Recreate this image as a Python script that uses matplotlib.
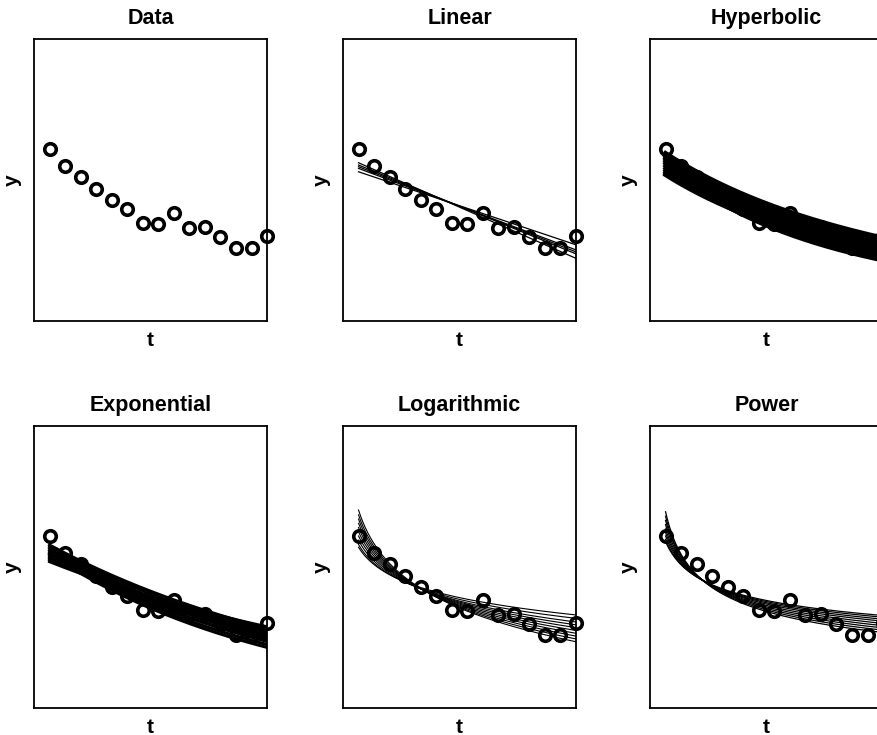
import numpy as np
import matplotlib
matplotlib.use('Agg')
import matplotlib.pyplot as plt

plt.rcParams['font.family'] = ['Liberation Sans', 'DejaVu Sans']
plt.rcParams['font.weight'] = 'bold'

# observed data
t = np.arange(1, 16)
y = [6.09, 5.51, 5.12, 4.67, 4.29, 3.96, 3.49, 3.44, 3.84, 3.29, 3.32, 2.99, 2.58, 2.58, 3.01]

linear_start = [5.61, 5.53, 5.47, 5.41, 5.29]
linear_end = [2.22, 2.38, 2.45, 2.52, 2.70]

hyper_start = [5.95, 5.90, 5.84, 5.78, 5.72, 5.65, 5.58, 5.50, 5.42, 5.35, 5.28, 5.22, 5.18]
hyper_end = [2.95, 2.85, 2.72, 2.60, 2.45, 2.30, 2.15, 2.20, 2.35, 2.50, 2.55, 2.45, 2.40]

exp_start = [5.78, 5.72, 5.66, 5.60, 5.54, 5.48, 5.45, 5.40, 5.34, 5.30, 5.25, 5.19]
exp_end = [2.82, 2.72, 2.60, 2.48, 2.36, 2.25, 2.15, 2.40, 2.55, 2.65, 2.75, 2.88]

log_start = [7.02, 6.85, 6.70, 6.55, 6.40, 6.25, 6.10, 5.95, 5.80, 5.70]
log_end = [2.35, 2.45, 2.55, 2.65, 2.75, 2.85, 2.95, 3.05, 3.18, 3.30]

pow_start = [6.96, 6.80, 6.65, 6.50, 6.35, 6.22, 6.10, 5.98, 5.90]
pow_end = [2.68, 2.76, 2.84, 2.92, 3.00, 3.08, 3.15, 3.22, 3.28]

titles = ['Data', 'Linear', 'Hyperbolic', 'Exponential', 'Logarithmic', 'Power']


def model_curve(kind, y0, y1, tt):
    # curve of the given family passing through (1, y0) and (15, y1)
    if kind == 'linear':
        return y0 + (y1 - y0) * (tt - 1) / 14
    if kind == 'hyperbolic':
        D = (np.sqrt(y0 / y1) - 1) / 7
        return y0 * (1 + 0.5 * D * (tt - 1)) ** -2
    if kind == 'exponential':
        return y0 * (y1 / y0) ** ((tt - 1) / 14)
    if kind == 'logarithmic':
        return y0 + (y1 - y0) * np.log(tt) / np.log(15)
    if kind == 'power':
        return y0 * tt ** (np.log(y1 / y0) / np.log(15))


fits = [
    None,
    ('linear', linear_start, linear_end, 0.9),
    ('hyperbolic', hyper_start, hyper_end, 3.2),
    ('exponential', exp_start, exp_end, 2.2),
    ('logarithmic', log_start, log_end, 0.8),
    ('power', pow_start, pow_end, 0.9),
]

fig = plt.figure(figsize=(8.77, 7.35), dpi=100)
lefts = [0.0388, 0.3911, 0.7412]
bottoms = [0.5633, 0.0367]
w, h = 0.2657, 0.3837

tt = np.linspace(1, 15, 300)
for i, title in enumerate(titles):
    ax = fig.add_axes([lefts[i % 3], bottoms[i // 3], w, h])
    ax.plot(t, y, 'o', color='black', mfc='none', ms=8.3, mew=2.6, clip_on=False, zorder=2)
    if fits[i] is not None:
        kind, starts, ends, lw = fits[i]
        for y0, y1 in zip(starts, ends):
            ax.plot(tt, model_curve(kind, y0, y1, tt), color='black', lw=lw, zorder=3)
    ax.set_xlim(0, 15)
    ax.set_ylim(0, 10)
    ax.set_xticks([])
    ax.set_yticks([])
    for s in ax.spines.values():
        s.set_linewidth(1.3)
    ax.set_title(title, fontsize=15.5, fontweight='bold', pad=11)
    ax.set_xlabel('t', fontsize=15, fontweight='bold', labelpad=7)
    ax.set_ylabel('y', fontsize=15, fontweight='bold', labelpad=9)

fig.savefig('out.png', dpi=100)
